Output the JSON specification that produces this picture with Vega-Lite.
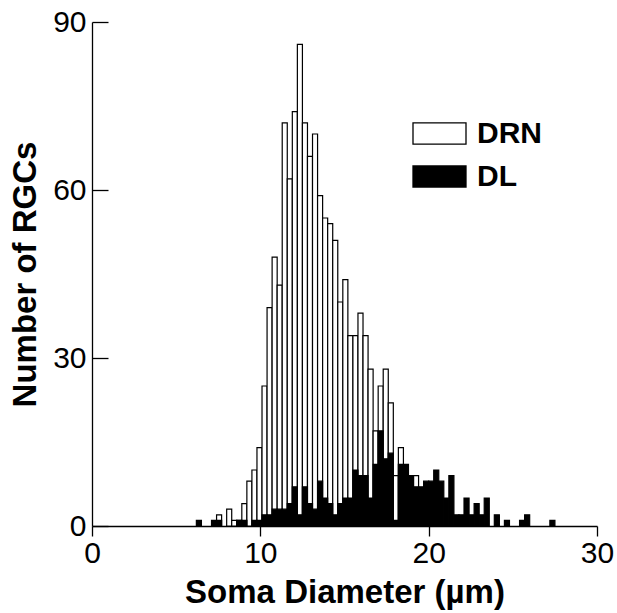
{
  "$schema": "https://vega.github.io/schema/vega-lite/v6.json",
  "width": 505,
  "height": 504,
  "autosize": "none",
  "padding": {"left": 92, "top": 22, "right": 20, "bottom": 87},
  "background": "white",
  "config": {
    "view": {"stroke": null},
    "font": "Liberation Sans"
  },
  "data": {
    "values": [
      {"x0": 7.4, "x1": 7.7, "series": "DRN", "count": 2},
      {"x0": 8.0, "x1": 8.3, "series": "DRN", "count": 3},
      {"x0": 8.3, "x1": 8.6, "series": "DRN", "count": 1},
      {"x0": 8.6, "x1": 8.9, "series": "DRN", "count": 1},
      {"x0": 8.9, "x1": 9.2, "series": "DRN", "count": 4},
      {"x0": 9.2, "x1": 9.5, "series": "DRN", "count": 8},
      {"x0": 9.5, "x1": 9.8, "series": "DRN", "count": 10},
      {"x0": 9.8, "x1": 10.1, "series": "DRN", "count": 14},
      {"x0": 10.1, "x1": 10.4, "series": "DRN", "count": 25},
      {"x0": 10.4, "x1": 10.7, "series": "DRN", "count": 39},
      {"x0": 10.7, "x1": 11.0, "series": "DRN", "count": 48},
      {"x0": 11.0, "x1": 11.3, "series": "DRN", "count": 43},
      {"x0": 11.3, "x1": 11.6, "series": "DRN", "count": 72},
      {"x0": 11.6, "x1": 11.9, "series": "DRN", "count": 62},
      {"x0": 11.9, "x1": 12.2, "series": "DRN", "count": 74},
      {"x0": 12.2, "x1": 12.5, "series": "DRN", "count": 86},
      {"x0": 12.5, "x1": 12.8, "series": "DRN", "count": 72},
      {"x0": 12.8, "x1": 13.1, "series": "DRN", "count": 66},
      {"x0": 13.1, "x1": 13.4, "series": "DRN", "count": 70},
      {"x0": 13.4, "x1": 13.7, "series": "DRN", "count": 59},
      {"x0": 13.7, "x1": 14.0, "series": "DRN", "count": 55},
      {"x0": 14.0, "x1": 14.3, "series": "DRN", "count": 54},
      {"x0": 14.3, "x1": 14.6, "series": "DRN", "count": 51},
      {"x0": 14.6, "x1": 14.9, "series": "DRN", "count": 40},
      {"x0": 14.9, "x1": 15.2, "series": "DRN", "count": 44},
      {"x0": 15.2, "x1": 15.5, "series": "DRN", "count": 34},
      {"x0": 15.5, "x1": 15.8, "series": "DRN", "count": 34},
      {"x0": 15.8, "x1": 16.1, "series": "DRN", "count": 38},
      {"x0": 16.1, "x1": 16.4, "series": "DRN", "count": 34},
      {"x0": 16.4, "x1": 16.7, "series": "DRN", "count": 28},
      {"x0": 16.7, "x1": 17.0, "series": "DRN", "count": 17},
      {"x0": 17.0, "x1": 17.3, "series": "DRN", "count": 25},
      {"x0": 17.3, "x1": 17.6, "series": "DRN", "count": 28},
      {"x0": 17.6, "x1": 17.9, "series": "DRN", "count": 22},
      {"x0": 17.9, "x1": 18.2, "series": "DRN", "count": 9},
      {"x0": 18.2, "x1": 18.5, "series": "DRN", "count": 14},
      {"x0": 19.1, "x1": 19.4, "series": "DRN", "count": 9},
      {"x0": 6.2, "x1": 6.5, "series": "DL", "count": 1},
      {"x0": 7.1, "x1": 7.4, "series": "DL", "count": 1},
      {"x0": 7.4, "x1": 7.7, "series": "DL", "count": 1},
      {"x0": 8.6, "x1": 8.9, "series": "DL", "count": 1},
      {"x0": 8.9, "x1": 9.2, "series": "DL", "count": 1},
      {"x0": 9.5, "x1": 9.8, "series": "DL", "count": 1},
      {"x0": 9.8, "x1": 10.1, "series": "DL", "count": 1},
      {"x0": 10.1, "x1": 10.4, "series": "DL", "count": 2},
      {"x0": 10.4, "x1": 10.7, "series": "DL", "count": 2},
      {"x0": 10.7, "x1": 11.0, "series": "DL", "count": 3},
      {"x0": 11.0, "x1": 11.3, "series": "DL", "count": 3},
      {"x0": 11.3, "x1": 11.6, "series": "DL", "count": 3},
      {"x0": 11.6, "x1": 11.9, "series": "DL", "count": 4},
      {"x0": 11.9, "x1": 12.2, "series": "DL", "count": 7},
      {"x0": 12.2, "x1": 12.5, "series": "DL", "count": 2},
      {"x0": 12.5, "x1": 12.8, "series": "DL", "count": 7},
      {"x0": 12.8, "x1": 13.1, "series": "DL", "count": 4},
      {"x0": 13.1, "x1": 13.4, "series": "DL", "count": 3},
      {"x0": 13.4, "x1": 13.7, "series": "DL", "count": 8},
      {"x0": 13.7, "x1": 14.0, "series": "DL", "count": 5},
      {"x0": 14.0, "x1": 14.3, "series": "DL", "count": 4},
      {"x0": 14.3, "x1": 14.6, "series": "DL", "count": 2},
      {"x0": 14.6, "x1": 14.9, "series": "DL", "count": 4},
      {"x0": 14.9, "x1": 15.2, "series": "DL", "count": 5},
      {"x0": 15.2, "x1": 15.5, "series": "DL", "count": 5},
      {"x0": 15.5, "x1": 15.8, "series": "DL", "count": 10},
      {"x0": 15.8, "x1": 16.1, "series": "DL", "count": 9},
      {"x0": 16.1, "x1": 16.4, "series": "DL", "count": 9},
      {"x0": 16.4, "x1": 16.7, "series": "DL", "count": 5},
      {"x0": 16.7, "x1": 17.0, "series": "DL", "count": 11},
      {"x0": 17.0, "x1": 17.3, "series": "DL", "count": 17},
      {"x0": 17.3, "x1": 17.6, "series": "DL", "count": 12},
      {"x0": 17.6, "x1": 17.9, "series": "DL", "count": 13},
      {"x0": 17.9, "x1": 18.2, "series": "DL", "count": 1},
      {"x0": 18.2, "x1": 18.5, "series": "DL", "count": 11},
      {"x0": 18.5, "x1": 18.8, "series": "DL", "count": 11},
      {"x0": 18.8, "x1": 19.1, "series": "DL", "count": 9},
      {"x0": 19.1, "x1": 19.4, "series": "DL", "count": 7},
      {"x0": 19.4, "x1": 19.7, "series": "DL", "count": 7},
      {"x0": 19.7, "x1": 20.0, "series": "DL", "count": 8},
      {"x0": 20.0, "x1": 20.3, "series": "DL", "count": 8},
      {"x0": 20.3, "x1": 20.6, "series": "DL", "count": 10},
      {"x0": 20.6, "x1": 20.9, "series": "DL", "count": 8},
      {"x0": 20.9, "x1": 21.2, "series": "DL", "count": 5},
      {"x0": 21.2, "x1": 21.5, "series": "DL", "count": 9},
      {"x0": 21.5, "x1": 21.8, "series": "DL", "count": 2},
      {"x0": 21.8, "x1": 22.1, "series": "DL", "count": 2},
      {"x0": 22.1, "x1": 22.4, "series": "DL", "count": 5},
      {"x0": 22.4, "x1": 22.7, "series": "DL", "count": 2},
      {"x0": 22.7, "x1": 23.0, "series": "DL", "count": 4},
      {"x0": 23.0, "x1": 23.3, "series": "DL", "count": 2},
      {"x0": 23.3, "x1": 23.6, "series": "DL", "count": 5},
      {"x0": 23.9, "x1": 24.2, "series": "DL", "count": 2},
      {"x0": 24.5, "x1": 24.8, "series": "DL", "count": 1},
      {"x0": 25.4, "x1": 25.7, "series": "DL", "count": 1},
      {"x0": 25.7, "x1": 26.0, "series": "DL", "count": 2},
      {"x0": 27.2, "x1": 27.5, "series": "DL", "count": 1}
    ]
  },
  "mark": {"type": "bar", "stroke": "black", "strokeWidth": 1.2, "opacity": 1, "fillOpacity": 1},
  "encoding": {
    "x": {
      "field": "x0",
      "type": "quantitative",
      "scale": {"domain": [0, 30], "nice": false, "zero": false},
      "axis": {
        "values": [0, 10, 20, 30],
        "title": "Soma Diameter (µm)",
        "titleFont": "Liberation Sans",
        "titleFontSize": 33,
        "titleFontWeight": "bold",
        "titleColor": "black",
        "titlePadding": 8,
        "labelFont": "Liberation Sans",
        "labelFontSize": 30,
        "labelColor": "black",
        "labelPadding": 2,
        "labelFlush": false,
        "labelOverlap": false,
        "tickSize": 10,
        "tickColor": "black",
        "tickWidth": 1.3,
        "domainColor": "black",
        "domainWidth": 1.3,
        "grid": false
      }
    },
    "x2": {"field": "x1"},
    "y": {
      "field": "count",
      "type": "quantitative",
      "stack": null,
      "scale": {"domain": [0, 90], "nice": false},
      "axis": {
        "values": [0, 30, 60, 90],
        "title": "Number of RGCs",
        "titleFont": "Liberation Sans",
        "titleFontSize": 33,
        "titleFontWeight": "bold",
        "titleColor": "black",
        "titlePadding": 10,
        "labelFont": "Liberation Sans",
        "labelFontSize": 30,
        "labelColor": "black",
        "labelPadding": 22,
        "labelFlush": false,
        "labelOverlap": false,
        "tickSize": -16,
        "tickColor": "black",
        "tickWidth": 1.3,
        "domainColor": "black",
        "domainWidth": 1.3,
        "grid": false
      }
    },
    "y2": {"datum": 0},
    "color": {
      "field": "series",
      "type": "nominal",
      "scale": {"domain": ["DRN", "DL"], "range": ["white", "black"]},
      "legend": {
        "title": null,
        "orient": "none",
        "legendX": 320,
        "legendY": 84,
        "padding": 0,
        "symbolType": "M-1,-0.4H1V0.4H-1Z",
        "symbolSize": 2809,
        "symbolStrokeColor": "black",
        "symbolStrokeWidth": 1.3,
        "symbolOpacity": 1,
        "labelFont": "Liberation Sans",
        "labelFontSize": 30,
        "labelFontWeight": "bold",
        "labelColor": "black",
        "labelOffset": 10,
        "rowPadding": -18
      }
    }
  }
}
